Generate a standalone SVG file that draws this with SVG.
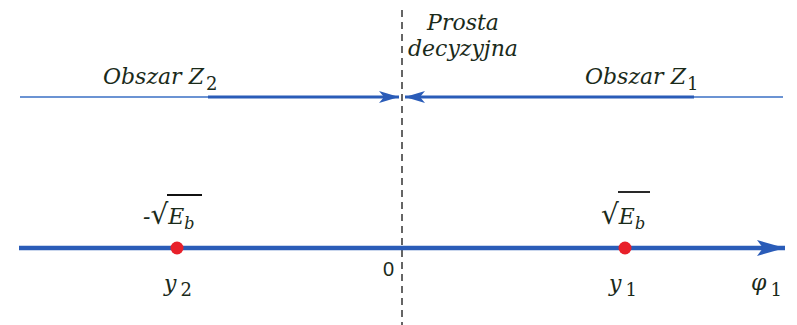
<svg xmlns="http://www.w3.org/2000/svg" width="797" height="325" viewBox="0 0 797 325">
<style>
.t{font-family:"DejaVu Serif","Liberation Serif",serif;font-style:italic;fill:#1a2a1a;font-size:22px}
.s{font-family:"DejaVu Serif","Liberation Serif",serif;font-style:normal;font-size:18px}
.n{font-family:"Liberation Sans",Arial,sans-serif;fill:#1a2a1a;font-size:20px}
.thin{stroke:#3a6fc4;stroke-width:1.6;fill:none}
.thick{stroke:#2a5cb8;stroke-width:3.2;fill:none}
.axis{stroke:#2a5cb8;stroke-width:4.5;fill:none}
.dot{fill:#e8202a}
.ov{stroke:#111;stroke-width:1.8}
</style>
<defs>
<marker id="ah" viewBox="0 0 20 12" refX="20" refY="6" markerWidth="20" markerHeight="12" markerUnits="userSpaceOnUse" orient="auto">
<path d="M0,0 L20,6 L0,12 L5,6 Z" fill="#2a5cb8"/>
</marker>
<marker id="ah2" viewBox="0 0 28 16" refX="28" refY="8" markerWidth="28" markerHeight="16" markerUnits="userSpaceOnUse" orient="auto">
<path d="M0,0 L28,8 L0,16 L6,8 Z" fill="#2a5cb8"/>
</marker>
</defs>
<g id="connectors">
<line x1="402" y1="10" x2="402" y2="325" stroke="#333" stroke-width="1.5" stroke-dasharray="7,5"/>
<line class="thin" x1="20" y1="97" x2="210" y2="97"/>
<line class="thick" x1="208" y1="97" x2="399" y2="97" marker-end="url(#ah)"/>
<line class="thin" x1="692" y1="97" x2="783" y2="97"/>
<line class="thick" x1="694" y1="97" x2="405" y2="97" marker-end="url(#ah)"/>
<line class="axis" x1="19" y1="248" x2="785" y2="248" marker-end="url(#ah2)"/>
</g>
<g id="label-prosta">
<text class="t" x="463" y="30" text-anchor="middle">Prosta</text>
<text class="t" x="463" y="56" text-anchor="middle">decyzyjna</text>
</g>
<g id="label-z2">
<text class="t" x="103" y="84">Obszar Z<tspan class="s" dy="6" dx="2">2</tspan></text>
</g>
<g id="label-z1">
<text class="t" x="585" y="84">Obszar Z<tspan class="s" dy="6" dx="1">1</tspan></text>
</g>
<g id="node-y2">
<circle class="dot" cx="177" cy="248" r="6.5"/>
<text class="t" x="143" y="224">-<tspan font-style="normal" font-size="28">√</tspan><tspan>E</tspan><tspan font-size="16" dy="5">b</tspan></text>
<line class="ov" x1="167" y1="195" x2="202" y2="195"/>
<text class="t" x="164" y="291">y<tspan class="s" dy="5" dx="4">2</tspan></text>
</g>
<g id="node-y1">
<circle class="dot" cx="625" cy="248" r="6.5"/>
<text class="t" x="601" y="224"><tspan font-style="normal" font-size="28">√</tspan><tspan>E</tspan><tspan font-size="16" dy="5">b</tspan></text>
<line class="ov" x1="618" y1="192" x2="650" y2="192"/>
<text class="t" x="609" y="291">y<tspan class="s" dy="5" dx="4">1</tspan></text>
</g>
<g id="label-zero">
<text class="n" x="383" y="276">0</text>
</g>
<g id="label-phi">
<text class="t" x="751" y="290">φ<tspan class="s" dy="6" dx="4">1</tspan></text>
</g>
</svg>
